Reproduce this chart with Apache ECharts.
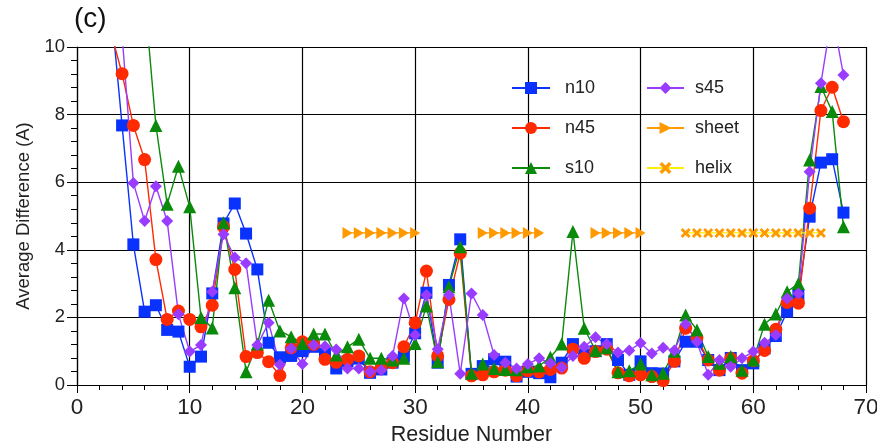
<!DOCTYPE html>
<html>
<head>
<meta charset="utf-8">
<script src="https://cdn.jsdelivr.net/npm/echarts@6/dist/echarts.min.js"></script>
<style>
  html, body { margin: 0; padding: 0; background: #fff; }
  #chart { width: 877px; height: 446px; }
</style>
</head>
<body>
<div id="chart"></div>
<script>
// Residue numbers along the x axis
const residues = [3,4,5,6,7,8,9,10,11,12,13,14,15,16,17,18,19,20,21,22,23,24,25,26,27,28,29,30,
  31,32,33,34,35,36,37,38,39,40,41,42,43,44,45,46,47,48,49,50,51,52,53,54,55,56,57,58,59,60,
  61,62,63,64,65,66,67,68];

// Average difference per residue (A); null where no point exists
const n10 = [11.25,7.68,4.16,2.17,2.36,1.63,1.58,0.54,0.84,2.71,4.78,5.37,4.48,3.42,1.25,0.82,0.86,1.0,1.13,0.92,
  0.49,0.7,0.78,0.36,0.46,0.66,0.84,1.53,2.73,0.66,2.96,4.31,0.33,0.56,0.76,0.69,0.25,0.39,0.35,0.23,
  0.66,1.21,0.9,1.0,1.21,0.74,0.3,0.7,0.35,0.34,0.7,1.28,1.28,0.74,0.44,0.8,0.44,0.64,1.08,1.45,
  2.17,2.66,4.98,6.58,6.68,5.1];
const n45 = [10.45,9.21,7.68,6.67,3.71,1.94,2.19,1.94,1.72,2.36,4.68,3.42,0.84,0.96,0.69,0.28,1.1,1.28,1.2,0.76,
  0.67,0.76,0.86,0.39,0.54,0.66,1.13,1.84,3.37,0.86,2.53,3.9,0.27,0.3,0.39,0.44,0.27,0.42,0.39,0.46,
  0.5,1.06,0.79,0.99,1.06,0.36,0.27,0.3,0.25,0.13,0.7,1.68,1.4,0.74,0.44,0.79,0.35,0.72,1.02,1.65,
  2.44,2.42,5.23,8.12,8.81,7.79];
const s10 = [null,null,null,11.5,7.68,5.35,6.47,5.27,2.0,1.69,4.8,2.88,0.39,1.21,2.51,1.6,1.43,1.23,1.51,1.51,
  0.89,1.13,1.35,0.79,0.79,0.74,0.79,1.23,2.34,0.69,2.91,4.09,0.35,0.62,0.49,0.46,0.45,0.54,0.56,0.82,
  1.21,4.54,1.68,1.02,1.1,0.39,0.42,0.62,0.3,0.35,1.0,2.07,1.63,0.84,0.64,0.84,0.44,0.74,1.8,2.1,
  2.76,3.0,6.66,8.83,8.09,4.68];
const s45 = [null,10.35,5.98,4.85,5.88,4.85,2.09,0.99,1.18,2.76,4.46,3.77,3.6,1.18,1.84,0.6,1.08,0.62,1.18,1.15,
  1.05,0.49,0.49,0.39,0.44,0.86,2.56,1.48,2.66,1.06,2.66,0.33,2.71,2.07,0.89,0.66,0.49,0.62,0.79,0.64,
  0.52,0.86,1.13,1.41,1.21,0.96,1.02,1.24,0.93,1.1,1.02,1.8,1.28,0.3,0.74,0.54,0.79,0.99,1.25,1.48,
  2.56,2.71,6.31,8.93,11.0,9.17];

// Secondary-structure assignment, drawn as a band of markers
const structureLevel = 4.5;
const sheetResidues = [24,25,26,27,28,29,30, 36,37,38,39,40,41, 46,47,48,49,50];
const helixResidues = [54,55,56,57,58,59,60,61,62,63,64,65,66];

// Tick labels
const xTicks = [0,10,20,30,40,50,60,70];
const yTicks = [0,2,4,6,8,10];

function pairs(values) {
  return residues.map((r, i) => [r, values[i]]);
}
function band(members) {
  return residues.map(r => [r, members.indexOf(r) >= 0 ? structureLevel : null]);
}

const FONT = '"Liberation Sans", Arial, Helvetica, sans-serif';
const TEXT = '#222';
const crossPath = 'path://M0,2 L2,0 L5,3 L8,0 L10,2 L7,5 L10,8 L8,10 L5,7 L2,10 L0,8 L3,5 Z';

function lineSeries(name, values, color, symbol, size) {
  return {
    name: name, type: 'line', data: pairs(values),
    symbol: symbol, symbolSize: size,
    lineStyle: { color: color, width: 1.4 },
    itemStyle: { color: color },
    connectNulls: false
  };
}

const chart = echarts.init(document.getElementById('chart'), null, { renderer: 'canvas' });

chart.setOption({
  animation: false,
  backgroundColor: '#ffffff',
  title: {
    text: '(c)', left: 74, top: 5, padding: 0,
    textStyle: { fontFamily: FONT, fontSize: 28, fontWeight: 'normal', color: '#111' }
  },
  legend: [
    {
      data: ['n10', 'n45', 's10'], orient: 'vertical', left: 511, top: 79, padding: 0,
      itemWidth: 38, itemHeight: 15, itemGap: 22,
      textStyle: { fontFamily: FONT, fontSize: 18, color: TEXT, padding: [0, 0, 0, 10] }
    },
    {
      data: ['s45', 'sheet', 'helix'], orient: 'vertical', left: 646, top: 79, padding: 0,
      itemWidth: 37, itemHeight: 15, itemGap: 22,
      textStyle: { fontFamily: FONT, fontSize: 18, color: TEXT, padding: [0, 0, 0, 6] }
    }
  ],
  grid: { left: 77, right: 11, top: 47, bottom: 61, outerBoundsMode: 'none', containLabel: false },
  xAxis: {
    type: 'value', min: xTicks[0], max: xTicks[xTicks.length - 1], interval: 10,
    name: 'Residue Number', nameLocation: 'middle', nameGap: 35,
    nameTextStyle: { fontFamily: FONT, fontSize: 21.5, color: TEXT },
    axisLine: { lineStyle: { color: '#000', width: 1.2 } },
    axisTick: { show: true, length: 8, lineStyle: { color: '#000' } },
    minorTick: { show: true, splitNumber: 5, length: 5, lineStyle: { color: '#000' } },
    splitLine: { show: true, lineStyle: { color: '#000', width: 1.2 } },
    axisLabel: { fontFamily: FONT, fontSize: 22.5, color: TEXT, margin: 11 }
  },
  yAxis: {
    type: 'value', min: yTicks[0], max: yTicks[yTicks.length - 1], interval: 2,
    name: 'Average Difference (A)', nameLocation: 'middle', nameGap: 42,
    nameTextStyle: { fontFamily: FONT, fontSize: 18.5, color: TEXT },
    axisLine: { show: true, lineStyle: { color: '#000', width: 1.2 } },
    axisTick: { show: true, length: 10, lineStyle: { color: '#000' } },
    minorTick: { show: true, splitNumber: 5, length: 6, lineStyle: { color: '#000' } },
    splitLine: { show: true, lineStyle: { color: '#000', width: 1.2 } },
    axisLabel: { fontFamily: FONT, fontSize: 18.5, color: TEXT, margin: 12 }
  },
  series: [
    lineSeries('n10', n10, '#0a32ff', 'rect', 12),
    lineSeries('n45', n45, '#ff2a00', 'circle', 13),
    lineSeries('s10', s10, '#0a8a0a', 'triangle', 13),
    lineSeries('s45', s45, '#9a3cff', 'diamond', 12),
    {
      name: 'sheet', type: 'line', data: band(sheetResidues),
      symbol: 'triangle', symbolRotate: -90, symbolSize: [12, 10],
      lineStyle: { color: '#ff9900', width: 1.4 },
      itemStyle: { color: '#ff9900' }, connectNulls: false
    },
    {
      name: 'helix', type: 'line', data: band(helixResidues),
      symbol: crossPath, symbolSize: 10,
      lineStyle: { color: '#ffee00', width: 1.4 },
      itemStyle: { color: '#ff9900' }, connectNulls: false
    }
  ]
});
</script>
</body>
</html>
